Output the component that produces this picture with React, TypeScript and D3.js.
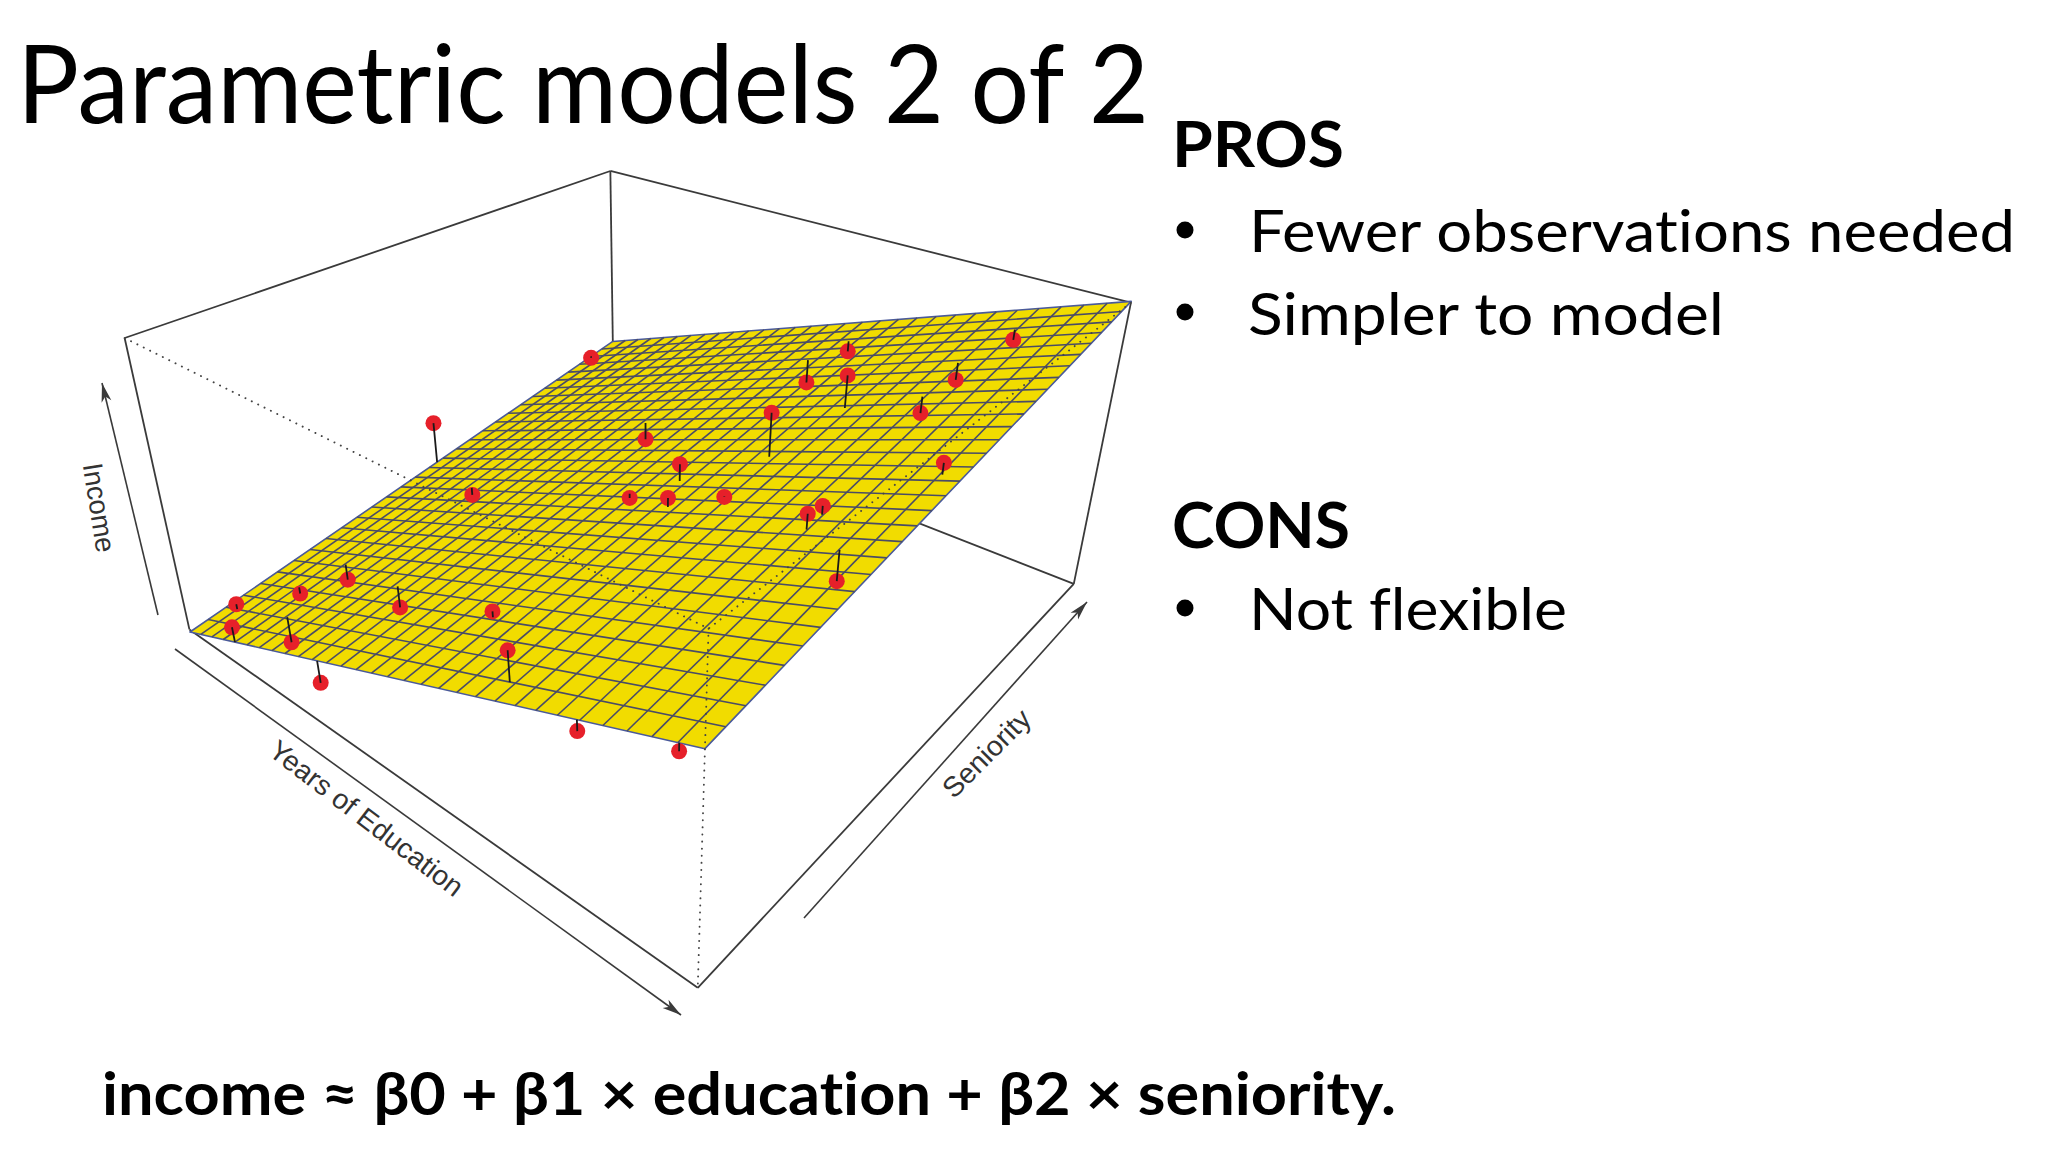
/**
 * Slide: income as a flat plane over years of education and seniority,
 * with the 30 observations and their residual stems, in a persp()-like box.
 */
import * as d3 from 'd3';
import { useEffect, useRef } from 'react';

const WIDTH = 2048;
const HEIGHT = 1152;

// Observations
const education = [10, 10, 12.16, 14.51, 17.03, 16.29, 17.43, 18.3, 18.28, 16.6, 18.68, 17.03, 19.95, 19.94, 20.36, 21.64, 20.38, 20.38, 21.21, 11.64, 11.25, 10.4, 11.6, 12.04, 13.72, 16.61, 18.29, 14.14, 19.95, 21.62];
const seniority = [186.8, 103.8, 88, 131, 96.2, 88.4, 82.6, 89, 110.4, 172.4, 138.6, 185.2, 144.4, 165, 185.8, 102.8, 82.6, 75.8, 68.4, 41.2, 27.6, 13.4, 0, 14, 34.4, 27.6, 6.6, 0, 0, 0];
const income = [26.1, 30.5, 22.2, 39.3, 60.9, 48.3, 58.6, 61.7, 79, 55.8, 82.1, 64.8, 74.6, 77.3, 85.1, 87.2, 75.9, 76.9, 67.1, 9.1, 8.2, 5.3, 14.1, 3.8, 18.7, 44.5, 59, 16, 55.2, 66.2];

// income = b0 + b1 * education + b2 * seniority
const B0 = -60.75;
const B1 = 5.975;
const B2 = 0.1485;
const fitted = (edu: number, sen: number) => B0 + B1 * edu + B2 * sen;

const EDU_CELLS = 30;
const SEN_CELLS = 30;

const xScale = d3.scaleLinear().domain([10, 22]).range([0, 1]);
const yScale = d3.scaleLinear().domain([0, 200]).range([0, 1]);
const zScale = d3.scaleLinear().domain([0, 100]).range([0, 1]);

// Box corners, unit cube -> where they sit on the slide. Camera is fitted to these.
const CUBE = [[0, 0, 0], [1, 0, 0], [1, 1, 0], [0, 1, 0], [0, 0, 1], [1, 0, 1], [1, 1, 1], [0, 1, 1]];
const SCREEN = [[190, 633], [699, 987], [1072, 587], [614, 399], [124, 337], [707, 625], [1133, 302], [610, 174]];

function solve(A: number[][], b: number[]) {
  const n = b.length;
  const M = A.map((r, i) => [...r, b[i]]);
  for (let i = 0; i < n; i++) {
    let best = i;
    for (let k = i; k < n; k++) if (Math.abs(M[k][i]) > Math.abs(M[best][i])) best = k;
    [M[i], M[best]] = [M[best], M[i]];
    for (let k = 0; k < n; k++) {
      if (k === i) continue;
      const f = M[k][i] / M[i][i];
      for (let j = i; j <= n; j++) M[k][j] -= f * M[i][j];
    }
  }
  return M.map((r, i) => r[n] / r[i]);
}

function fitCamera() {
  const rows: number[][] = [];
  const rhs: number[] = [];
  CUBE.forEach(([X, Y, Z], i) => {
    const [u, v] = SCREEN[i];
    rows.push([X, Y, Z, 1, 0, 0, 0, 0, -u * X, -u * Y, -u * Z]);
    rhs.push(u);
    rows.push([0, 0, 0, 0, X, Y, Z, 1, -v * X, -v * Y, -v * Z]);
    rhs.push(v);
  });
  const idx = d3.range(11);
  const AtA = idx.map(i => idx.map(j => d3.sum(rows, r => r[i] * r[j])));
  const Atb = idx.map(i => d3.sum(rows, (r, k) => r[i] * rhs[k]));
  return solve(AtA, Atb);
}

const cam = fitCamera();

function cube(x: number, y: number, z: number): [number, number] {
  const w = cam[8] * x + cam[9] * y + cam[10] * z + 1;
  return [(cam[0] * x + cam[1] * y + cam[2] * z + cam[3]) / w, (cam[4] * x + cam[5] * y + cam[6] * z + cam[7]) / w];
}
const project = (edu: number, sen: number, inc: number) => cube(xScale(edu), yScale(sen), zScale(inc));

const line = d3.line();
const edge = (a: number, b: number) => line([cube(CUBE[a][0], CUBE[a][1], CUBE[a][2]), cube(CUBE[b][0], CUBE[b][1], CUBE[b][2])]);

const SOLID_EDGES = [[4, 7], [7, 6], [4, 0], [6, 2], [0, 1], [1, 2], [2, 3], [7, 3]];
const DOTTED_EDGES = [[4, 5], [6, 5], [5, 1]];

const AXIS_ARROWS = [
  { from: [158, 615], to: [102, 383] },
  { from: [175, 649], to: [681, 1015] },
  { from: [804, 918], to: [1087, 602] },
];

const AXIS_LABELS = [
  { text: 'Income', x: 97, y: 508, angle: 81, length: 90 },
  { text: 'Years of Education', x: 365, y: 820, angle: 37.5, length: 236 },
  { text: 'Seniority', x: 988, y: 755, angle: -45, length: 112 },
];

const BODY_FONT = 'Lato, "Open Sans", sans-serif';

const SLIDE_TEXT = [
  { text: 'Parametric models 2 of 2', x: 17, y: 123, size: 108, weight: 400, length: 1132 },
  { text: 'PROS', x: 1172, y: 167, size: 64, weight: 700, length: 172 },
  { text: 'Fewer observations needed', x: 1249, y: 252, size: 58, weight: 400, length: 766 },
  { text: 'Simpler to model', x: 1248, y: 335, size: 58, weight: 400, length: 476 },
  { text: 'CONS', x: 1172, y: 548, size: 64, weight: 700, length: 178 },
  { text: 'Not flexible', x: 1249, y: 630, size: 58, weight: 400, length: 318 },
  { text: 'income ≈ β0 + β1 × education + β2 × seniority.', x: 102, y: 1115, size: 60, weight: 700, length: 1294 },
];
const BULLET_ROWS = [230, 312, 608];

export default function App() {
  const svgRef = useRef<SVGSVGElement>(null);

  useEffect(() => {
    if (!svgRef.current) return;
    const svg = d3.select(svgRef.current);
    svg.selectAll('*').remove();
    svg.attr('width', WIDTH).attr('height', HEIGHT);
    svg.append('rect').attr('width', WIDTH).attr('height', HEIGHT).attr('fill', '#ffffff');

    const g = svg.append('g');

    // Box edges behind the surface
    g.selectAll('path.solid')
      .data(SOLID_EDGES)
      .join('path')
      .attr('class', 'solid')
      .attr('d', d => edge(d[0], d[1]))
      .attr('fill', 'none')
      .attr('stroke', '#3a3a3a')
      .attr('stroke-width', 1.8);

    // Fitted surface
    const corner = (e: number, s: number) => project(e, s, fitted(e, s));
    g.append('path')
      .attr('d', line([corner(10, 0), corner(22, 0), corner(22, 200), corner(10, 200)]) + 'Z')
      .attr('fill', '#f1dc00')
      .attr('stroke', '#4a5a9a')
      .attr('stroke-width', 1.6)
      .attr('stroke-linejoin', 'round');

    const eduLines = d3.range(1, EDU_CELLS).map(i => 10 + (12 * i) / EDU_CELLS);
    const senLines = d3.range(1, SEN_CELLS).map(i => (200 * i) / SEN_CELLS);
    g.selectAll('path.edu')
      .data(eduLines)
      .join('path')
      .attr('class', 'edu')
      .attr('d', e => line([corner(e, 0), corner(e, 200)]))
      .attr('stroke', '#4a4c66')
      .attr('stroke-width', 1.6);
    g.selectAll('path.sen')
      .data(senLines)
      .join('path')
      .attr('class', 'sen')
      .attr('d', s => line([corner(10, s), corner(22, s)]))
      .attr('stroke', '#4a4c66')
      .attr('stroke-width', 1.6);

    // Hidden edges, dotted, on top of the surface like persp() leaves them
    g.selectAll('path.dotted')
      .data(DOTTED_EDGES)
      .join('path')
      .attr('class', 'dotted')
      .attr('d', d => edge(d[0], d[1]))
      .attr('fill', 'none')
      .attr('stroke', '#444')
      .attr('stroke-width', 1.9)
      .attr('stroke-linecap', 'round')
      .attr('stroke-dasharray', '0.1 7');

    // Observations and stems to the surface
    const points = education.map((e, i) => ({ dot: project(e, seniority[i], income[i]), foot: corner(e, seniority[i]) }));
    g.selectAll('circle')
      .data(points)
      .join('circle')
      .attr('cx', d => d.dot[0])
      .attr('cy', d => d.dot[1])
      .attr('r', 8)
      .attr('fill', '#e6202a');
    g.selectAll('path.stem')
      .data(points)
      .join('path')
      .attr('class', 'stem')
      .attr('d', d => line([d.dot, d.foot]))
      .attr('stroke', '#1a1a1a')
      .attr('stroke-width', 1.8);

    // Axis arrows
    AXIS_ARROWS.forEach(({ from, to }) => {
      const a = Math.atan2(to[1] - from[1], to[0] - from[0]);
      const at = (back: number, side: number): [number, number] => [
        to[0] - back * Math.cos(a) - side * Math.sin(a),
        to[1] - back * Math.sin(a) + side * Math.cos(a),
      ];
      g.append('path')
        .attr('d', line([from as [number, number], to as [number, number]]))
        .attr('stroke', '#3a3a3a')
        .attr('stroke-width', 1.6);
      g.append('path')
        .attr('d', line([to as [number, number], at(19, 5), at(14, 0), at(19, -5)]) + 'Z')
        .attr('fill', '#3a3a3a');
    });

    g.selectAll('text.axis')
      .data(AXIS_LABELS)
      .join('text')
      .attr('class', 'axis')
      .attr('transform', d => `translate(${d.x},${d.y}) rotate(${d.angle})`)
      .attr('text-anchor', 'middle')
      .attr('dominant-baseline', 'middle')
      .attr('font-family', '"Liberation Sans", Arial, sans-serif')
      .attr('font-size', 28)
      .attr('fill', '#333')
      .attr('textLength', d => d.length)
      .attr('lengthAdjust', 'spacingAndGlyphs')
      .text(d => d.text);

    // Slide text
    svg.selectAll('text.slide')
      .data(SLIDE_TEXT)
      .join('text')
      .attr('class', 'slide')
      .attr('x', d => d.x)
      .attr('y', d => d.y)
      .attr('font-family', BODY_FONT)
      .attr('font-size', d => d.size)
      .attr('font-weight', d => d.weight)
      .attr('fill', '#000')
      .attr('textLength', d => d.length)
      .attr('lengthAdjust', 'spacingAndGlyphs')
      .style('font-variant-ligatures', 'none')
      .text(d => d.text);

    svg.selectAll('circle.bullet')
      .data(BULLET_ROWS)
      .join('circle')
      .attr('class', 'bullet')
      .attr('cx', 1185)
      .attr('cy', d => d)
      .attr('r', 8.5)
      .attr('fill', '#000');
  }, []);

  return <svg ref={svgRef} style={{ position: 'absolute', left: 0, top: 0, display: 'block' }} />;
}
